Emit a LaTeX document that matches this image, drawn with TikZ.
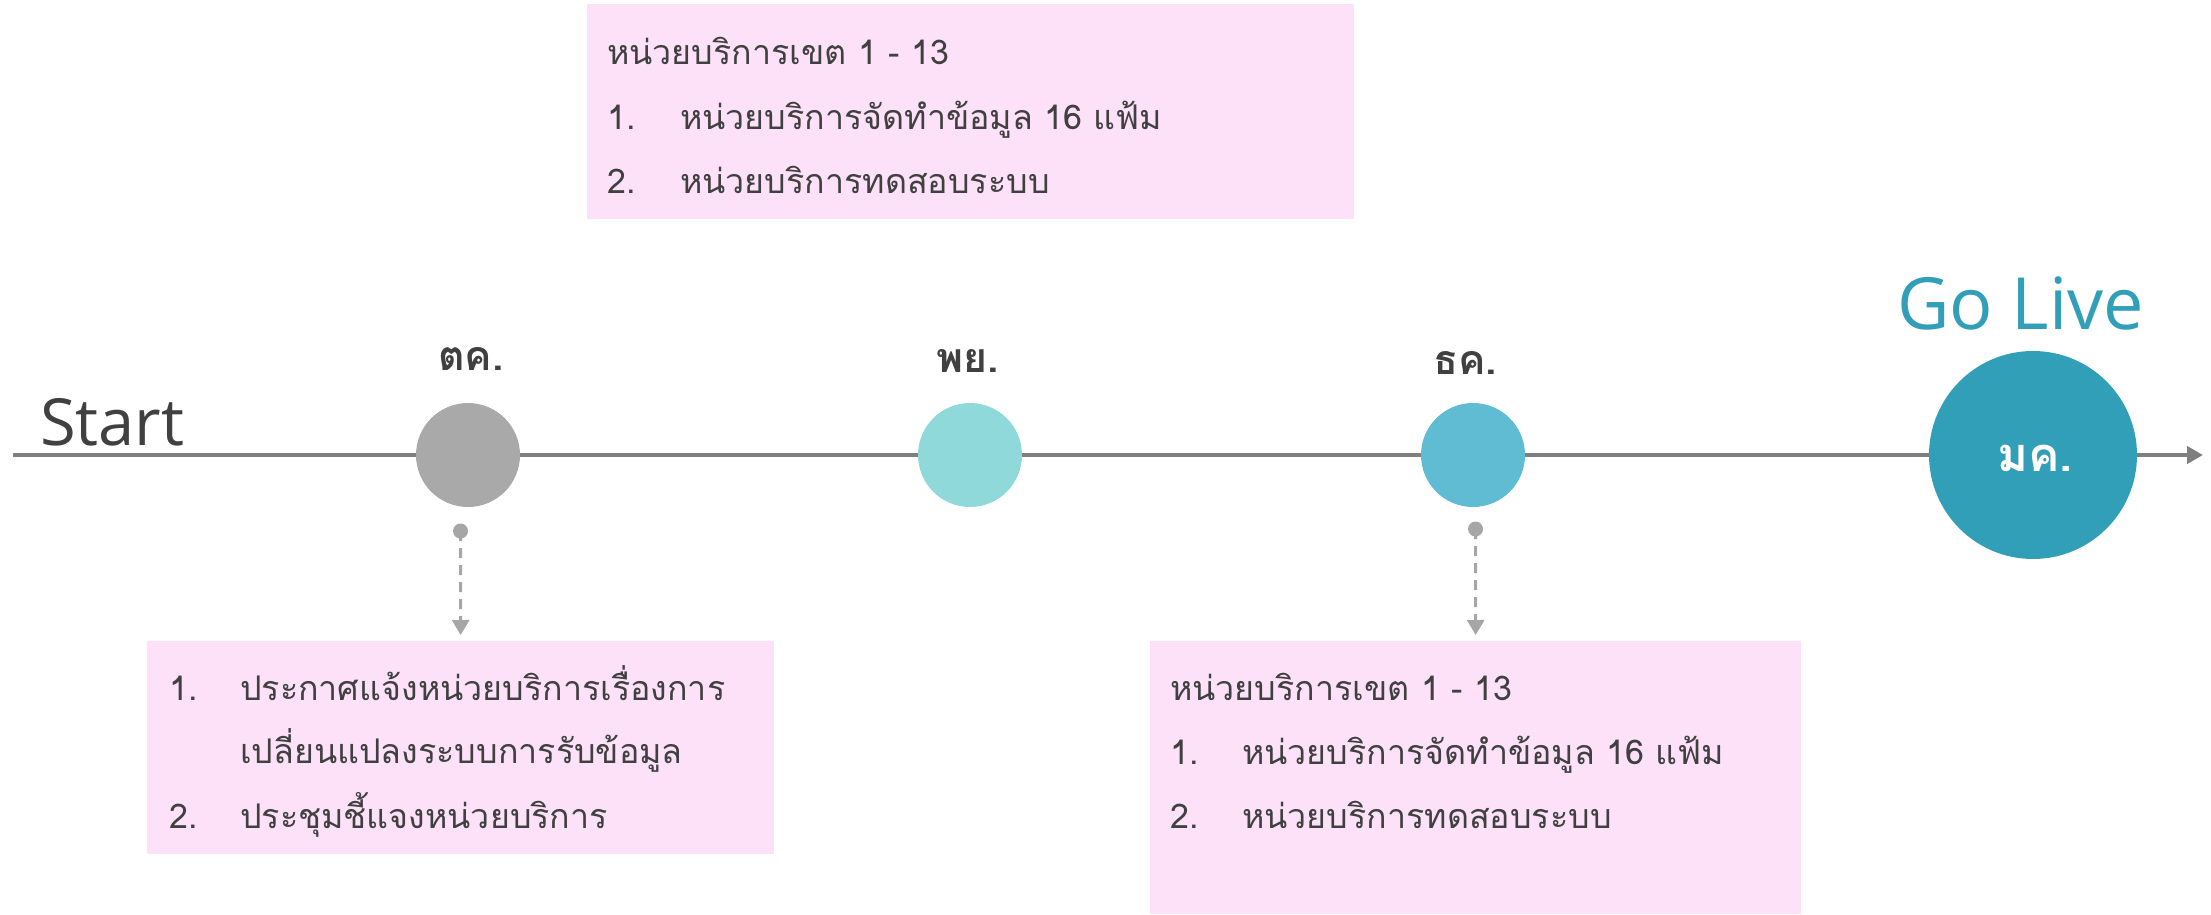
\documentclass[tikz,border=0pt]{standalone}
\usepackage{fontspec}
\newfontfamily\thai[Script=Thai]{Loma}
\newfontfamily\opensans{Open Sans}
\usetikzlibrary{arrows.meta}
\definecolor{txt}{HTML}{404040}
\definecolor{axisgray}{HTML}{7F7F7F}
\definecolor{conngray}{HTML}{A6A6A6}
\definecolor{boxpink}{HTML}{FCE1F8}
\definecolor{cOct}{HTML}{A9A9A9}
\definecolor{cNov}{HTML}{8FD9DB}
\definecolor{cDec}{HTML}{5FBCD3}
\definecolor{cJan}{HTML}{329FB9}
\tikzset{
  month/.style={circle,inner sep=0pt,minimum size=104pt},
  monthlbl/.style={anchor=base,text=txt,font=\thai\bfseries\fontsize{41}{48}\selectfont},
  infobox/.style={fill=boxpink,draw=none,anchor=north west,inner sep=0pt},
  line/.style={anchor=base west,inner sep=0pt,text=txt,font=\thai\fontsize{34}{40}\selectfont},
  dotnode/.style={circle,fill=conngray,inner sep=0pt,minimum size=15pt},
  conn/.style={draw=conngray,line width=3pt,dash pattern=on 10pt off 7pt,-{Triangle[length=15pt,width=17pt]},shorten >=6pt},
  axisline/.style={draw=axisgray,line width=4pt,-{Triangle[length=16pt,width=17pt]}}
}
\begin{document}
\begin{tikzpicture}[x=1pt,y=-1pt]
\useasboundingbox (0,0) rectangle (2211,915);
% axis
\coordinate (axL) at (13,455);
\coordinate (axR) at (2203,455);
\draw[axisline] (axL) -- (axR);
% circles
\node[month,fill=cOct] (oct) at (468,455) {};
\node[month,fill=cNov] (nov) at (970,455) {};
\node[month,fill=cDec] (dec) at (1473,455) {};
\node[month,fill=cJan,minimum size=208pt] (jan) at (2033,455) {};
% labels
\node[monthlbl] (octl) at (471,370) {ตค.};
\node[monthlbl] (novl) at (968,372) {พย.};
\node[monthlbl] (decl) at (1465,374) {ธค.};
\node[monthlbl,text=white,font=\thai\bfseries\fontsize{47}{54}\selectfont] (janl) at (2035,471) {มค.};
\node[anchor=base west,inner sep=0pt,text=txt,font=\opensans\fontsize{65}{70}\selectfont] (start) at (40,445) {Start};
\node[anchor=base west,inner sep=0pt,text=cJan,font=\opensans\fontsize{72}{80}\selectfont] (golive) at (1897,329) {Go Live};
% top box
\node[infobox,minimum width=767pt,minimum height=215pt] (topbox) at (587,4) {};
\node[line] (t1) at (607,65) {หน่วยบริการเขต 1 - 13};
\node[line] (t2) at (607,130) {\makebox[73pt][l]{1.}หน่วยบริการจัดทำข้อมูล 16 แฟ้ม};
\node[line] (t3) at (607,193) {\makebox[73pt][l]{2.}หน่วยบริการทดสอบระบบ};
% bottom left box
\node[infobox,minimum width=627pt,minimum height=213pt] (blbox) at (147,641) {};
\node[line] (l1) at (169,700) {\makebox[71pt][l]{1.}ประกาศแจ้งหน่วยบริการเรื่องการ};
\node[line] (l2) at (240,763) {เปลี่ยนแปลงระบบการรับข้อมูล};
\node[line] (l3) at (169,828) {\makebox[71pt][l]{2.}ประชุมชี้แจงหน่วยบริการ};
% bottom right box
\node[infobox,minimum width=651pt,minimum height=273pt] (brbox) at (1150,641) {};
\node[line] (r1) at (1170,700) {หน่วยบริการเขต 1 - 13};
\node[line] (r2) at (1170,764) {\makebox[72pt][l]{1.}หน่วยบริการจัดทำข้อมูล 16 แฟ้ม};
\node[line] (r3) at (1170,828) {\makebox[72pt][l]{2.}หน่วยบริการทดสอบระบบ};
% connectors
\node[dotnode] (d1) at (460.5,531) {};
\node[dotnode] (d2) at (1475.5,529) {};
\draw[conn] (d1.center) -- (blbox.north);
\draw[conn] (d2.center) -- (brbox.north);
\end{tikzpicture}
\end{document}
